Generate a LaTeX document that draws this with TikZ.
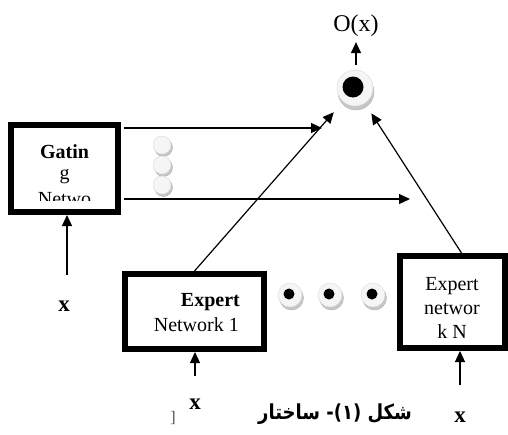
\documentclass[tikz,border=0pt]{standalone}
\usepackage{fontspec}
\setmainfont{Liberation Serif}
\newfontfamily\arabicfont[Script=Arabic]{DejaVu Sans}
\TeXXeTstate=1
\usetikzlibrary{arrows.meta,calc}

\tikzset{
  netbox/.style={draw, line width=6pt, fill=white, inner sep=0pt},
  arr/.style={-{Triangle[length=11pt,width=10pt]}, line width=1.2pt},
  lbl/.style={font=\fontsize{20}{24}\selectfont, inner sep=0pt},
  inlbl/.style={font=\bfseries\fontsize{23}{24}\selectfont, inner sep=0pt},
  puckshade/.style={fill=gray!45, draw=gray!60, line width=0.4pt},
  pucktop/.style={fill=gray!8, draw=gray!30, line width=0.4pt},
}

\begin{document}
\begin{tikzpicture}[x=1pt,y=-1pt]

  % Page frame (pixel units, y downwards)
  \useasboundingbox (0,0) rectangle (508,434);

  % Parameters
  \def\puckr{12}    % radius of the small pucks
  \def\outr{18}     % radius of the output puck

  % Boxes
  \node[netbox, minimum width=107pt, minimum height=87pt] (gate) at (64.5,168.5) {};
  \node[netbox, minimum width=139pt, minimum height=75pt] (exp1) at (194.5,311.5) {};
  \node[netbox, minimum width=105pt, minimum height=92pt] (expN) at (452.5,302) {};

  % Box texts (gating text is cut off by its frame)
  \begin{scope}
    \clip (14,128) rectangle (115,200);
    \node[lbl, anchor=base] (gt1) at (64.5,158) {\textbf{Gatin}};
    \node[lbl, anchor=base] (gt2) at (64.5,179) {g};
    \node[lbl, anchor=base] (gt3) at (64.5,205) {Netwo};
  \end{scope}
  \node[lbl, anchor=base east] (e1t1) at (240,306) {\textbf{Expert}};
  \node[lbl, anchor=base east] (e1t2) at (239,331) {Network 1};
  \node[lbl, anchor=base] (eNt1) at (452,290) {Expert};
  \node[lbl, anchor=base] (eNt2) at (452,314) {networ};
  \node[lbl, anchor=base] (eNt3) at (452,338) {k N};

  % Output puck
  \fill[puckshade] (356,92) circle (\outr);
  \node[circle, minimum size=36pt, inner sep=0pt, pucktop] (out) at (355,88) {};
  \fill (353,87) circle (10.5);
  \node[font=\fontsize{24}{26}\selectfont, inner sep=0pt] (ox) at (356,26) {O(x)};
  \draw[arr] ([yshift=5pt]out.north -| ox) -- ([yshift=-5pt]ox.south);

  % Gating pucks
  \foreach \y in {145,165,185}{
    \fill[puckshade] (163.5,\y+2.5) circle (9);
    \fill[pucktop] (162,\y) circle (9);
  }

  % Dots between the experts
  \foreach \x in {290,330,373}{
    \fill[puckshade] (\x+1.5,298) circle (\puckr);
    \fill[pucktop] (\x,295) circle (\puckr);
    \fill (\x-1,294) circle (5.5);
  }

  % Gating outputs
  \coordinate (gtop) at (322,128);
  \coordinate (gbot) at (410,199);
  \draw[arr, shorten <=3pt] (gate.east |- gtop) -- (gtop);
  \draw[arr, shorten <=3pt] (gate.east |- gbot) -- (gbot);

  % Expert outputs into the output puck
  \draw[arr, shorten >=14pt] (exp1.north) -- (out);
  \draw[arr, shorten >=12pt] ([xshift=9pt]expN.north) -- (out);

  % Inputs
  \node[inlbl] (xg) at (64,306) {x};
  \node[inlbl] (x1) at (195,404) {x};
  \node[inlbl] (xN) at (460,417) {x};
  \coordinate (xgin) at (67,275);
  \draw[arr] (xgin) -- (gate.south -| xgin);
  \draw[arr] ([yshift=28pt]x1.center) -- (exp1.south -| x1);
  \draw[arr] ([yshift=32pt]xN.center) -- (expN.south -| xN);

  % Caption
  \node[font=\fontsize{16}{18}\selectfont, text=gray!60!black] (br) at (173,418) {]};
  \node[font=\arabicfont\bfseries\fontsize{18}{22}\selectfont, inner sep=0pt, yscale=1.15] (cap) at (335,414)
    {\beginR ساختار\endR{} (۱)- \beginR شکل\endR};

\end{tikzpicture}
\end{document}
